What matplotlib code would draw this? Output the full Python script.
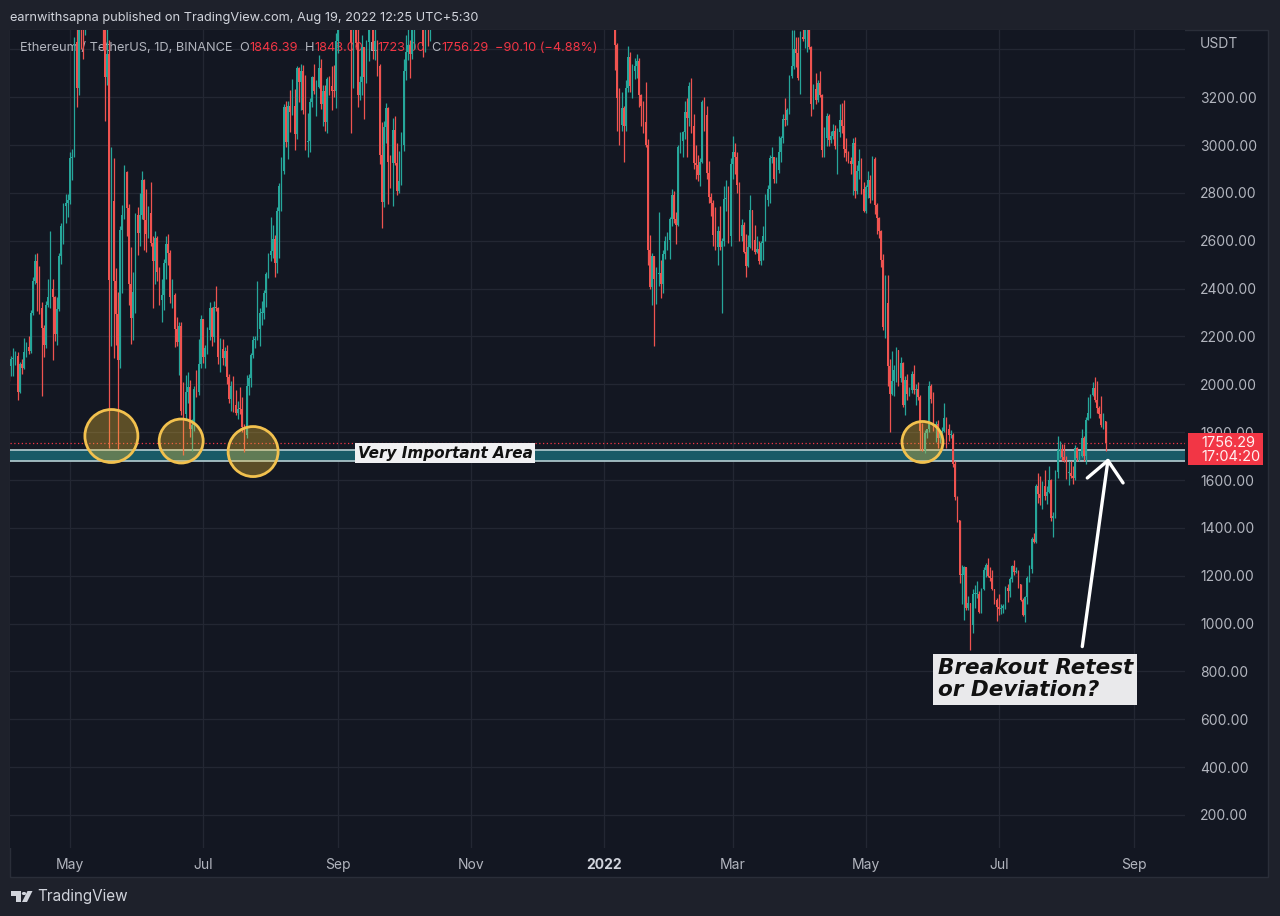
import numpy as np
import pandas as pd
import matplotlib
matplotlib.use('Agg')
import matplotlib.pyplot as plt
import matplotlib.dates as mdates
from matplotlib.patches import Ellipse, Rectangle, Polygon, Circle

W, H = 1280, 916

# ETHUSDT daily candles (open = previous close)
# part 1: 2021-04-03 .. 2021-10-15 (after that price sits above the visible range)
seg1_start = '2021-04-03'
seg1_first_open = 2135
seg1_close = [
    # Apr 3-30
    2077, 2107, 2112, 2117, 1968, 2085, 2070, 2135, 2157, 2139, 2300, 2432, 2514, 2423,
    2318, 2235, 2163, 2330, 2365, 2397, 2367, 2211, 2316, 2535, 2662, 2747, 2756, 2772,
    # May
    2945, 2950, 3431, 3240, 3522, 3490, 3484, 3902, 3928, 3952, 4169, 3785, 3716, 4079, 3654, 3582,
    3283, 3380, 2438, 2766, 2430, 2296, 2101, 2643, 2706, 2888, 2736, 2419, 2278, 2386, 2706,
    # Jun
    2634, 2706, 2855, 2688, 2630, 2715, 2590, 2515, 2610, 2471, 2354, 2372, 2508, 2585, 2547,
    2367, 2372, 2230, 2178, 2245, 1888, 1875, 1970, 1990, 1812, 1829, 1980, 1970, 2084, 2275,
    # Jul
    2113, 2150, 2226, 2321, 2198, 2323, 2317, 2116, 2146, 2110, 2140, 2031, 1940, 1994, 1912, 1880,
    1898, 1895, 1820, 1787, 1994, 2026, 2123, 2187, 2191, 2233, 2299, 2300, 2382, 2461, 2540,
    # Aug
    2557, 2609, 2507, 2725, 2827, 2890, 3158, 3012, 3163, 3140, 3164, 3045, 3322, 3265, 3310, 3148,
    3012, 3018, 3182, 3286, 3225, 3242, 3324, 3172, 3228, 3097, 3275, 3245, 3226, 3225, 3434,
    # Sep
    3834, 3787, 3937, 3886, 3952, 3926, 3431, 3497, 3426, 3208, 3265, 3408, 3285, 3429, 3611,
    3570, 3397, 3433, 3329, 2958, 2763, 3077, 3154, 2930, 2925, 3063, 2927, 2807, 2851, 3000,
    # Oct 1-15
    3308, 3391, 3418, 3380, 3518, 3580, 3587, 3560, 3575, 3415, 3543, 3493, 3604, 3790, 3867,
]
seg1_high = [
    2145, 2120, 2150, 2140, 2135, 2095, 2105, 2195, 2175, 2200, 2310, 2450, 2545, 2550,
    2495, 2345, 2250, 2350, 2440, 2640, 2440, 2370, 2365, 2550, 2675, 2760, 2795, 2795,
    2970, 2985, 3450, 3530, 3540, 3610, 3580, 3965, 3985, 4200, 4195, 4370, 4030, 4130, 4090, 3885,
    3590, 3560, 3440, 2990, 2945, 2485, 2385, 2660, 2750, 2915, 2890, 2755, 2575, 2470, 2715,
    2740, 2800, 2890, 2860, 2815, 2745, 2845, 2620, 2640, 2620, 2490, 2440, 2525, 2620, 2630,
    2560, 2440, 2380, 2280, 2260, 2260, 2010, 2040, 2050, 2020, 1855, 1995, 2060, 2190, 2290,
    2275, 2165, 2240, 2345, 2325, 2350, 2410, 2325, 2195, 2190, 2155, 2165, 2045, 2015, 2035, 1975,
    1930, 1990, 1945, 1835, 2040, 2045, 2130, 2200, 2200, 2430, 2320, 2350, 2395, 2470, 2550,
    2700, 2665, 2625, 2740, 2840, 2950, 3170, 3185, 3185, 3230, 3275, 3235, 3330, 3325, 3340, 3335,
    3295, 3135, 3195, 3290, 3340, 3270, 3375, 3360, 3250, 3250, 3285, 3290, 3330, 3335, 3470,
    3840, 3840, 4030, 3970, 3965, 3985, 3960, 3540, 3580, 3520, 3290, 3460, 3405, 3440, 3620,
    3680, 3590, 3485, 3440, 3340, 3095, 3100, 3175, 3160, 2960, 3115, 3120, 3010, 2975, 3055,
    3360, 3460, 3495, 3440, 3545, 3615, 3660, 3670, 3630, 3615, 3595, 3545, 3615, 3810, 3895,
]
seg1_low = [
    2015, 2035, 2035, 2080, 1935, 1962, 2045, 2065, 2115, 2125, 2130, 2290, 2420, 2305,
    2295, 1950, 2115, 2150, 2325, 2320, 2100, 2180, 2165, 2305, 2505, 2585, 2675, 2700,
    2755, 2855, 2950, 3160, 3210, 3400, 3360, 3460, 3700, 3780, 3870, 3730, 3530, 3700, 3645, 3400,
    3100, 3250, 1735, 2160, 2110, 2165, 1730, 2070, 2380, 2690, 2620, 2330, 2170, 2185, 2300,
    2540, 2580, 2690, 2560, 2555, 2610, 2580, 2320, 2420, 2430, 2330, 2260, 2310, 2440, 2500,
    2340, 2320, 2155, 2160, 2040, 1870, 1705, 1850, 1920, 1780, 1720, 1805, 1945, 1955, 2070,
    2090, 2070, 2125, 2185, 2160, 2175, 2305, 2085, 2050, 2080, 2075, 2000, 1920, 1890, 1885, 1870,
    1855, 1875, 1800, 1718, 1775, 1955, 1990, 2110, 2150, 2185, 2160, 2250, 2275, 2325, 2445,
    2515, 2530, 2450, 2465, 2530, 2725, 2880, 2990, 2940, 3055, 3125, 2980, 3025, 3180, 3145, 3130,
    2980, 2950, 2970, 3160, 3215, 3120, 3240, 3150, 3080, 3060, 3050, 3210, 3145, 3200, 3155,
    3385, 3710, 3720, 3840, 3850, 3830, 3050, 3240, 3410, 3160, 3190, 3210, 3110, 3260, 3350,
    3525, 3360, 3355, 3290, 2920, 2655, 2740, 3010, 2755, 2820, 2745, 2915, 2790, 2800, 2835,
    2975, 3270, 3355, 3280, 3360, 3400, 3530, 3545, 3535, 3370, 3390, 3415, 3435, 3580, 3720,
]

# part 2: 2021-12-28 .. 2022-08-19
seg2_start = '2021-12-28'
seg2_first_open = 4040
seg2_close = [
    # Dec 28-31
    3795, 3630, 3710, 3680,
    # Jan
    3770, 3830, 3760, 3790, 3540, 3420, 3195, 3085, 3155, 3080, 3240, 3370, 3245, 3310, 3330, 3350,
    3210, 3165, 3095, 3000, 2560, 2405, 2535, 2440, 2460, 2465, 2420, 2545, 2600, 2605, 2690,
    # Feb
    2790, 2690, 2665, 2990, 3015, 3055, 3140, 3115, 3245, 3080, 2925, 2915, 2875, 2930,
    3180, 3125, 2885, 2785, 2760, 2625, 2575, 2640, 2575, 2600, 2775, 2780, 2620, 2920,
    # Mar
    2970, 2950, 2835, 2620, 2665, 2555, 2495, 2575, 2730, 2605, 2555, 2565, 2515, 2590, 2620, 2770,
    2815, 2945, 2950, 2860, 2895, 2970, 3030, 3110, 3105, 3145, 3290, 3330, 3400, 3385, 3280,
    # Apr
    3450, 3445, 3520, 3520, 3410, 3170, 3235, 3190, 3260, 3210, 2980, 3030, 3120, 3020, 3040,
    3060, 2995, 3055, 3105, 3080, 2985, 2965, 2935, 2920, 3010, 2810, 2890, 2935, 2815, 2725,
    # May
    2825, 2855, 2780, 2940, 2750, 2695, 2640, 2520, 2240, 2340, 2075, 1960, 2015, 2060, 2145, 2025,
    2090, 1915, 2020, 1960, 1975, 2045, 1975, 1980, 1945, 1805, 1725, 1795, 1815, 1995, 1940,
    # Jun
    1820, 1835, 1775, 1800, 1805, 1860, 1815, 1790, 1790, 1665, 1530, 1435, 1205, 1205, 1235,
    1065, 1085, 995, 1125, 1125, 1125, 1050, 1145, 1225, 1245, 1200, 1190, 1145, 1100, 1070,
    # Jul
    1060, 1065, 1075, 1150, 1135, 1185, 1240, 1215, 1215, 1165, 1100, 1035, 1110, 1190, 1230, 1355,
    1340, 1575, 1540, 1525, 1575, 1535, 1550, 1600, 1440, 1450, 1635, 1725, 1730, 1695, 1680,
    # Aug 1-19
    1630, 1630, 1615, 1610, 1735, 1690, 1700, 1775, 1700, 1850, 1880, 1955, 1985, 1935, 1900,
    1875, 1830, 1846.39, 1756.29,
]
seg2_high = [
    4065, 3830, 3770, 3810,
    3775, 3860, 3850, 3880, 3850, 3545, 3425, 3240, 3220, 3165, 3270, 3415, 3390, 3340, 3365, 3380,
    3365, 3215, 3185, 3265, 3025, 2625, 2550, 2455, 2490, 2720, 2520, 2560, 2620, 2635, 2700,
    2815, 2810, 2720, 3000, 3055, 3060, 3185, 3195, 3265, 3280, 3130, 3000, 2960, 2945,
    3190, 3200, 3165, 2935, 2800, 2770, 2740, 2660, 2745, 2610, 2830, 2855, 2830, 2945,
    3040, 3010, 2970, 2845, 2690, 2680, 2630, 2625, 2790, 2725, 2665, 2620, 2600, 2600, 2660, 2795,
    2835, 2960, 2990, 2950, 2950, 3040, 3040, 3130, 3195, 3155, 3295, 3480, 3480, 3450, 3450,
    3475, 3535, 3580, 3550, 3555, 3415, 3255, 3300, 3270, 3310, 3215, 3075, 3135, 3130, 3060,
    3090, 3085, 3070, 3170, 3175, 3190, 3030, 2975, 2950, 3030, 3035, 2915, 2985, 2945, 2845,
    2835, 2890, 2875, 2955, 2950, 2760, 2700, 2645, 2545, 2455, 2455, 2105, 2140, 2080, 2155, 2145,
    2115, 2095, 2035, 2045, 1990, 2055, 2080, 2000, 2010, 1955, 1840, 1810, 1815, 2015, 2000,
    1970, 1845, 1850, 1810, 1820, 1920, 1865, 1835, 1810, 1795, 1680, 1535, 1435, 1245, 1240,
    1235, 1115, 1085, 1145, 1160, 1180, 1135, 1150, 1235, 1255, 1275, 1235, 1225, 1145, 1105,
    1125, 1080, 1080, 1155, 1165, 1195, 1245, 1265, 1235, 1225, 1165, 1105, 1115, 1200, 1245, 1360,
    1380, 1585, 1630, 1615, 1595, 1640, 1575, 1660, 1605, 1465, 1640, 1785, 1765, 1750, 1750,
    1700, 1680, 1680, 1660, 1745, 1740, 1720, 1815, 1785, 1865, 1945, 1960, 2010, 2030, 2015,
    1910, 1950, 1880, 1848.00,
]
seg2_low = [
    3755, 3600, 3590, 3630,
    3675, 3720, 3700, 3725, 3500, 3315, 3060, 3000, 3060, 2930, 3060, 3220, 3220, 3195, 3275, 3280,
    3160, 3080, 3050, 2990, 2500, 2400, 2330, 2160, 2335, 2410, 2360, 2380, 2525, 2560, 2525,
    2660, 2675, 2585, 2660, 2965, 2950, 3025, 2950, 3080, 3050, 2900, 2860, 2850, 2830,
    2925, 3060, 2860, 2760, 2705, 2580, 2560, 2500, 2560, 2300, 2580, 2725, 2590, 2580,
    2860, 2880, 2800, 2600, 2600, 2550, 2450, 2490, 2570, 2560, 2545, 2550, 2505, 2500, 2520, 2600,
    2745, 2760, 2925, 2840, 2840, 2885, 2930, 3010, 3080, 3085, 3130, 3280, 3320, 3325, 3270,
    3215, 3435, 3405, 3390, 3400, 3120, 3150, 3170, 3180, 3200, 2950, 2950, 2995, 2995, 3010,
    3025, 2985, 2880, 3035, 3050, 2950, 2935, 2925, 2880, 2790, 2780, 2795, 2860, 2795, 2720,
    2715, 2780, 2760, 2770, 2710, 2630, 2610, 2490, 2225, 2195, 1995, 1800, 1955, 1950, 2010, 1995,
    2010, 1905, 1870, 1935, 1950, 1965, 1960, 1915, 1935, 1725, 1720, 1715, 1775, 1800, 1920,
    1805, 1760, 1735, 1755, 1780, 1800, 1735, 1765, 1775, 1655, 1515, 1425, 1170, 1080, 1015,
    1055, 1055, 890, 960, 1065, 1105, 1045, 1045, 1140, 1195, 1195, 1180, 1140, 1080, 1010,
    1035, 1040, 1045, 1060, 1090, 1110, 1175, 1205, 1210, 1150, 1095, 1030, 1005, 1080, 1175, 1210,
    1335, 1335, 1505, 1495, 1480, 1515, 1500, 1545, 1430, 1360, 1440, 1610, 1690, 1680, 1675,
    1605, 1580, 1610, 1585, 1600, 1680, 1680, 1695, 1680, 1665, 1855, 1860, 1950, 1925, 1880,
    1860, 1820, 1815, 1723.00,
]

price_ticks = [200, 400, 600, 800, 1000, 1200, 1400, 1600, 1800, 2000,
               2200, 2400, 2600, 2800, 3000, 3200]
month_ticks = ['2021-05-01', '2021-07-01', '2021-09-01', '2021-11-01', '2022-01-01',
               '2022-03-01', '2022-05-01', '2022-07-01', '2022-09-01']
month_labels = ['May', 'Jul', 'Sep', 'Nov', '2022', 'Mar', 'May', 'Jul', 'Sep']

last_open, last_high, last_low, last_close = 1846.39, 1848.00, 1723.00, 1756.29
change, change_pct = -90.10, -4.88
zone_low, zone_high = 1681, 1727

GREEN = '#26a69a'
RED = '#ef5350'
PANE = '#131722'
OUTER = '#1e212b'
GRID = '#232733'
TXT = '#b2b5be'

plt.rcParams['font.family'] = ['Inter', 'DejaVu Sans']


def fx(px):
    return px / W


def fy(py):
    return 1 - py / H


def draw_candles(ax, start, first_open, close, high, low):
    close = np.array(close, dtype=float)
    opens = np.concatenate([[first_open], close[:-1]])
    high = np.maximum(np.array(high, dtype=float), np.maximum(opens, close))
    low = np.minimum(np.array(low, dtype=float), np.minimum(opens, close))
    x = mdates.date2num(pd.date_range(start, periods=len(close), freq='D'))
    colors = np.where(close >= opens, GREEN, RED)
    ax.vlines(x, low, high, colors=colors, linewidth=0.9, zorder=3)
    body = np.maximum(np.abs(close - opens), 4)
    ax.bar(x, body, bottom=np.minimum(opens, close), width=0.75,
           color=colors, linewidth=0, zorder=3)


fig = plt.figure(figsize=(W / 100, H / 100), dpi=100, facecolor=OUTER)
fig.add_artist(Rectangle((fx(10), fy(877)), fx(1268) - fx(10), fy(30) - fy(877),
                         transform=fig.transFigure, facecolor=PANE,
                         edgecolor='#2a2e39', linewidth=1, zorder=-1))

ax = fig.add_axes([fx(10), fy(848), fx(1185) - fx(10), fy(30) - fy(848)])
ax.set_facecolor(PANE)
for s in ax.spines.values():
    s.set_visible(False)

x_left = mdates.date2num(pd.Timestamp('2021-05-01')) - 27.5
x_right = mdates.date2num(pd.Timestamp('2022-09-01')) + 23.4
ax.set_xlim(x_left, x_right)
ax.set_ylim(62, 3481)

# grid
ax.set_yticks(price_ticks)
ax.set_yticklabels([f'{p:.2f}' for p in price_ticks])
ax.set_xticks(mdates.date2num(pd.to_datetime(month_ticks)))
ax.set_xticklabels(month_labels)
ax.grid(True, color=GRID, linewidth=0.9, zorder=0)
ax.axhline(3400, color=GRID, linewidth=0.9, zorder=0)
ax.set_axisbelow(True)
ax.yaxis.tick_right()
ax.tick_params(axis='y', length=0, pad=11, labelsize=10, labelcolor=TXT)
ax.tick_params(axis='x', length=0, pad=7, labelsize=10, labelcolor=TXT)
for lbl in ax.get_yticklabels():
    lbl.set_horizontalalignment('left')
xl = ax.get_xticklabels()
xl[4].set_fontweight('bold')
xl[4].set_color('#d1d4dc')

# support zone
ax.axhspan(zone_low, zone_high, facecolor='#195a67', edgecolor='none', zorder=2)
ax.axhline(zone_high, color='#a9c3c8', linewidth=1.3, zorder=2)
ax.axhline(zone_low, color='#a9c3c8', linewidth=1.3, zorder=2)
ax.axhline(last_close, color='#f23645', linewidth=0.9, linestyle=(0, (1, 2)), zorder=2)

# candles
draw_candles(ax, seg1_start, seg1_first_open, seg1_close, seg1_high, seg1_low)
draw_candles(ax, seg2_start, seg2_first_open, seg2_close, seg2_high, seg2_low)

# touch circles (date, price, radius in px)
days_per_px = (x_right - x_left) / (1185 - 10)
price_per_px = (3481 - 62) / (848 - 30)
for d, p, r in [('2021-05-20', 1784, 26.5), ('2021-06-21', 1763, 22),
                ('2021-07-24', 1719, 25), ('2022-05-27', 1759, 20.5)]:
    ax.add_patch(Ellipse((mdates.date2num(pd.Timestamp(d)), p),
                         2 * r * days_per_px, 2 * r * price_per_px,
                         facecolor=(0.95, 0.75, 0.2, 0.33), edgecolor='#f2c14e',
                         linewidth=2, zorder=4))

ax.text(mdates.date2num(pd.Timestamp('2021-10-20')), 1712, 'Very Important Area',
        family='DejaVu Sans', fontweight='bold', fontstyle='italic', fontsize=11,
        color='#111111', ha='center', va='center', zorder=5,
        bbox=dict(boxstyle='square,pad=0.18', facecolor='#f0f0f2', edgecolor='none'))

ax.text(mdates.date2num(pd.Timestamp('2022-06-03')), 768, 'Breakout Retest\nor Deviation?',
        family='DejaVu Sans', fontweight='bold', fontstyle='italic', fontsize=15.5,
        color='#111111', ha='left', va='center', linespacing=1.15, zorder=5,
        bbox=dict(boxstyle='square,pad=0.2', facecolor='#e9e9eb', edgecolor='none'))

ax.annotate('', xy=(mdates.date2num(pd.Timestamp('2022-08-20 05:00')), 1692),
            xytext=(mdates.date2num(pd.Timestamp('2022-08-08 07:00')), 904),
            arrowprops=dict(arrowstyle='->,head_length=1.45,head_width=1.3',
                            color='white', lw=2.4, shrinkA=0, shrinkB=0),
            zorder=6)

# header and legend
fig.text(fx(10), fy(18), 'earnwithsapna published on TradingView.com, Aug 19, 2022 12:25 UTC+5:30',
         color='#d1d4dc', fontsize=9.2, va='center', ha='left')

renderer = fig.canvas.get_renderer()
legend = [('Ethereum / TetherUS, 1D, BINANCE', TXT, 7),
          ('O', TXT, 0), (f'{last_open:.2f}', '#f23645', 7),
          ('H', TXT, 0), (f'{last_high:.2f}', '#f23645', 7),
          ('L', TXT, 0), (f'{last_low:.2f}', '#f23645', 7),
          ('C', TXT, 0), (f'{last_close:.2f}', '#f23645', 7),
          (f'\u2212{abs(change):.2f} (\u2212{abs(change_pct):.2f}%)', '#f23645', 0)]
xpos = 20
for s, c, gap in legend:
    t = ax.text(fx(xpos), fy(48), s, color=c, fontsize=9.2, va='center', ha='left',
                transform=fig.transFigure, zorder=2, clip_on=False)
    xpos += t.get_window_extent(renderer).width + gap

fig.text(fx(1200), fy(44), 'USDT', color=TXT, fontsize=10, va='center', ha='left')

# last price label
fig.add_artist(Rectangle((fx(1188), fy(465)), fx(1263) - fx(1188), fy(433) - fy(465),
                         transform=fig.transFigure, facecolor='#f23645',
                         edgecolor='none', zorder=5))
fig.text(fx(1201), fy(443), f'{last_close:.2f}', color='#fff0f0', fontsize=10.5,
         va='center', ha='left', zorder=6)
fig.text(fx(1201), fy(457), '17:04:20', color='#fff0f0', fontsize=10.5,
         va='center', ha='left', zorder=6)

# footer logo
fig.add_artist(Polygon([(fx(11), fy(891)), (fx(21), fy(891)), (fx(21), fy(902)),
                        (fx(16), fy(902)), (fx(16), fy(896)), (fx(11), fy(896))],
                       closed=True, transform=fig.transFigure, facecolor='#d1d4dc',
                       edgecolor='none'))
fig.add_artist(Circle((fx(24), fy(893.5)), 2.2 / W, transform=fig.transFigure,
                      facecolor='#d1d4dc', edgecolor='none'))
fig.add_artist(Polygon([(fx(22), fy(902)), (fx(27), fy(902)), (fx(32.5), fy(891)),
                        (fx(27.5), fy(891))], closed=True, transform=fig.transFigure,
                       facecolor='#d1d4dc', edgecolor='none'))
fig.text(fx(37), fy(896), 'TradingView', color='#d1d4dc', fontsize=11,
         va='center', ha='left')

fig.savefig('out.png', dpi=100, facecolor=OUTER)
